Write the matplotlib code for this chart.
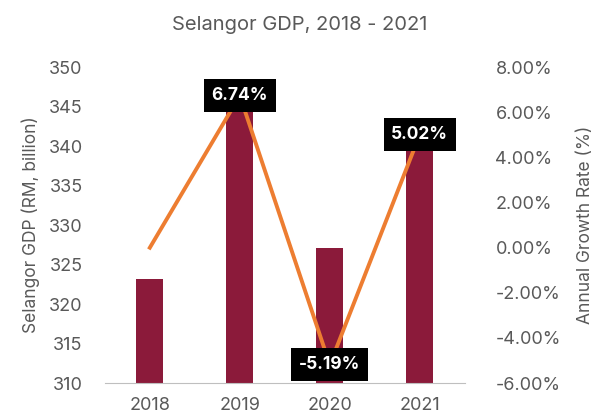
import matplotlib
matplotlib.use("Agg")
import matplotlib.pyplot as plt
from matplotlib.ticker import FuncFormatter

years = ["2018", "2019", "2020", "2021"]
gdp = [323.2, 345.0, 327.1, 343.5]
growth = [0.00, 6.74, -5.19, 5.02]
growth_labels = [None, "6.74%", "-5.19%", "5.02%"]

plt.rcParams['font.family'] = ['Inter', 'DejaVu Sans']
gray = "#595959"
bar_color = "#8B1A3A"
line_color = "#ED7D31"

fig = plt.figure(figsize=(5.99, 4.2), dpi=100)
ax = fig.add_axes([0.175, 0.088, 0.601, 0.752])
x = list(range(len(years)))
ax.bar(x, gdp, width=0.3, color=bar_color, zorder=2)
ax.set_ylim(310, 350)
ax.set_xlim(-0.5, 3.5)
ax.set_yticks(range(310, 351, 5))
ax.set_xticks(x)
ax.set_xticklabels(years)
for s in ["top", "left", "right"]:
    ax.spines[s].set_visible(False)
ax.spines["bottom"].set_color("#BFBFBF")
ax.tick_params(axis="both", length=0, colors=gray, labelsize=13)
ax.tick_params(axis="x", pad=10)
ax.tick_params(axis="y", pad=16)
ax.set_ylabel("Selangor GDP (RM, billion)", color=gray, fontsize=12.5, labelpad=6)

ax2 = ax.twinx()
ax2.plot(x, growth, color=line_color, lw=2.8, zorder=3)
ax2.set_ylim(-6, 8)
ax2.set_yticks(range(-6, 9, 2))
ax2.yaxis.set_major_formatter(FuncFormatter(lambda v, p: f"{v:.2f}%"))
for s in ["top", "left", "right", "bottom"]:
    ax2.spines[s].set_visible(False)
ax2.tick_params(axis="y", length=0, colors=gray, labelsize=13, pad=22)
ax2.set_ylabel("Annual Growth Rate (%)", color=gray, fontsize=12.5, labelpad=12)

for xi, g, lab in zip(x, growth, growth_labels):
    if lab:
        ax2.text(xi, g, lab, ha="center", va="center", color="white",
                 fontsize=12.5, fontweight="bold", zorder=5,
                 bbox=dict(boxstyle="square,pad=0.45", fc="black", ec="none"))

fig.text(0.5, 0.94, "Selangor GDP, 2018 - 2021", ha="center", va="center",
         color=gray, fontsize=14.5)

fig.savefig("out.png", dpi=100)
